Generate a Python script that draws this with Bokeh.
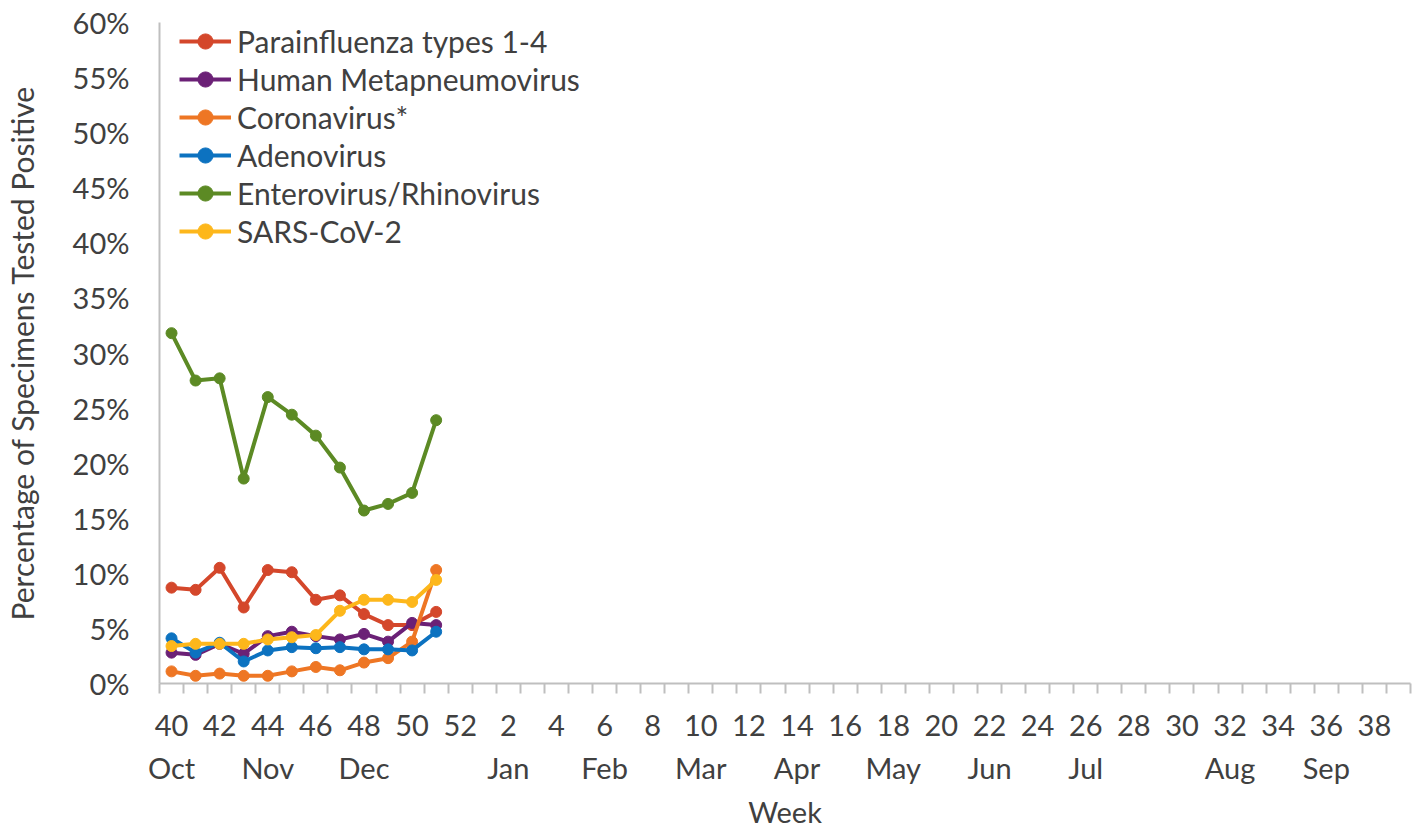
from bokeh.plotting import figure
from bokeh.models import Range1d, FixedTicker, LinearAxis, PrintfTickFormatter, Legend, LegendItem
from bokeh.embed import file_html
from bokeh.resources import INLINE

# ---- data ----
weeks = list(range(40, 53)) + list(range(1, 40))
data_weeks = list(range(40, 52))
parainfluenza = [8.7, 8.5, 10.5, 6.9, 10.3, 10.1, 7.6, 8.0, 6.3, 5.3, 5.3, 6.5]
hmpv = [2.8, 2.6, 3.6, 2.7, 4.3, 4.7, 4.3, 4.0, 4.5, 3.8, 5.5, 5.3]
coronavirus = [1.1, 0.7, 0.9, 0.7, 0.7, 1.1, 1.5, 1.2, 1.9, 2.3, 3.8, 10.3]
adenovirus = [4.1, 2.8, 3.7, 2.0, 3.0, 3.3, 3.2, 3.3, 3.1, 3.1, 3.0, 4.7]
entero_rhino = [31.8, 27.5, 27.7, 18.6, 26.0, 24.4, 22.5, 19.6, 15.7, 16.3, 17.3, 23.9]
sars_cov_2 = [3.4, 3.6, 3.6, 3.6, 4.0, 4.2, 4.4, 6.6, 7.6, 7.6, 7.4, 9.4]

series_names = ["Parainfluenza types 1-4", "Human Metapneumovirus", "Coronavirus*",
                "Adenovirus", "Enterovirus/Rhinovirus", "SARS-CoV-2"]
series_values = [parainfluenza, hmpv, coronavirus, adenovirus, entero_rhino, sars_cov_2]
series_colors = ["#D4472B", "#6B2076", "#EE7624", "#0C72C0", "#5C8A24", "#FDB71B"]

month_names = ["Oct", "Nov", "Dec", "Jan", "Feb", "Mar", "Apr", "May", "Jun", "Jul", "Aug", "Sep"]
month_weeks = [40, 44, 48, 2, 6, 10, 14, 18, 22, 26, 32, 36]
week_tick_labels = weeks[::2]
y_ticks = list(range(0, 61, 5))

FONT = "Lato"
TXT = "#404040"
GRAY = "#BFBFBF"

n = len(weeks)
xs = [weeks.index(w) for w in data_weeks]

p = figure(width=1414, height=831, output_backend="svg", toolbar_location=None,
           x_range=Range1d(-0.5, n - 0.5), y_range=Range1d(0, 60),
           min_border_left=158, min_border_right=4, min_border_top=22, min_border_bottom=10)
p.outline_line_color = None
p.xgrid.visible = False
p.ygrid.visible = False

# x axis: boundaries as minor ticks, labels every other week
xa = p.xaxis[0]
major_idx = [weeks.index(w) for w in week_tick_labels]
xa.ticker = FixedTicker(ticks=major_idx, minor_ticks=[i - 0.5 for i in range(n + 1)])
xa.major_label_overrides = {i: str(weeks[i]) for i in major_idx}
xa.major_tick_out = 0
xa.major_tick_in = 0
xa.minor_tick_out = 10
xa.minor_tick_in = 0
xa.minor_tick_line_color = GRAY
xa.minor_tick_line_width = 2
xa.axis_line_color = GRAY
xa.axis_line_width = 2
xa.major_label_text_font = FONT
xa.major_label_text_font_size = "29px"
xa.major_label_text_color = TXT
xa.major_label_standoff = 21

# month axis
month_idx = [weeks.index(w) for w in month_weeks]
ma = LinearAxis(ticker=FixedTicker(ticks=month_idx),
                major_label_overrides={i: m for i, m in zip(month_idx, month_names)},
                axis_line_color=None, major_tick_line_color=None, minor_tick_line_color=None,
                axis_label="Week")
ma.major_label_text_font = FONT
ma.major_label_text_font_size = "29px"
ma.major_label_text_color = TXT
ma.major_label_standoff = 5
ma.axis_label_text_font = FONT
ma.axis_label_text_font_size = "29px"
ma.axis_label_text_font_style = "normal"
ma.axis_label_text_color = TXT
ma.axis_label_standoff = 6
p.add_layout(ma, "below")

# y axis
ya = p.yaxis[0]
ya.ticker = FixedTicker(ticks=y_ticks)
ya.formatter = PrintfTickFormatter(format="%d%%")
ya.major_tick_out = 0
ya.major_tick_in = 0
ya.minor_tick_line_color = None
ya.axis_line_color = GRAY
ya.axis_line_width = 2
ya.major_label_text_font = FONT
ya.major_label_text_font_size = "29px"
ya.major_label_text_color = TXT
ya.major_label_standoff = 30
ya.axis_label = "Percentage of Specimens Tested Positive"
ya.axis_label_text_font = FONT
ya.axis_label_text_font_size = "30px"
ya.axis_label_text_font_style = "normal"
ya.axis_label_text_color = TXT
ya.axis_label_standoff = 30

items = []
for name, vals, col in zip(series_names, series_values, series_colors):
    r1 = p.line(xs, vals, line_color=col, line_width=4)
    r2 = p.scatter(xs, vals, size=11, fill_color=col, line_color=col)
    items.append(LegendItem(label=name, renderers=[r1, r2]))

legend = Legend(items=items, location=(20, 433), border_line_color=None,
                background_fill_alpha=0, glyph_width=52, glyph_height=38,
                spacing=0, padding=0, margin=0, label_standoff=6,
                label_text_font=FONT, label_text_font_size="30px", label_text_color=TXT)
p.add_layout(legend)

open("out.html", "w").write(file_html(p, INLINE))
